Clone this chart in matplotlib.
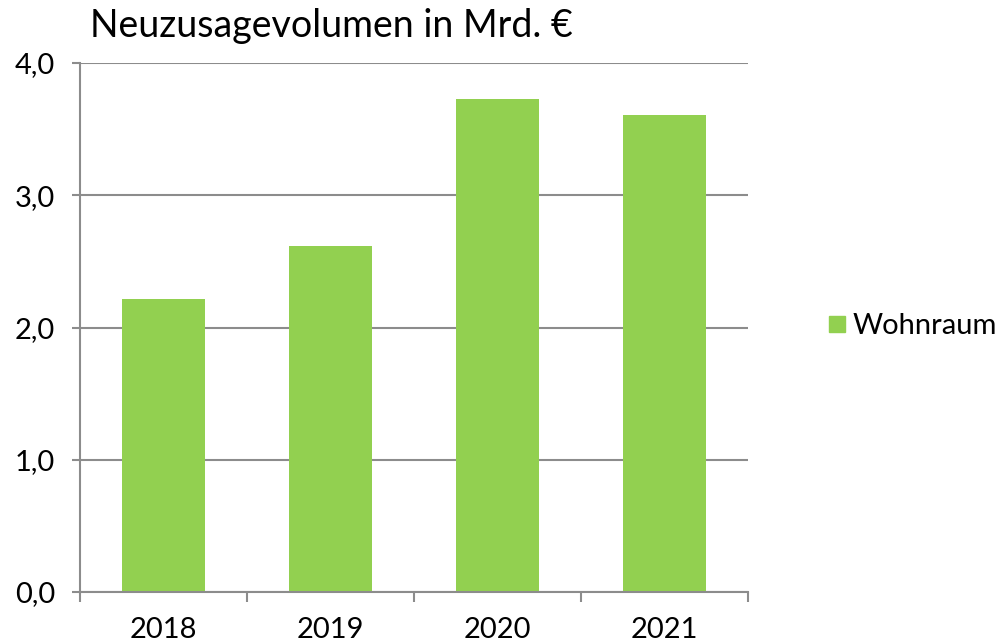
import matplotlib
matplotlib.use("Agg")
import matplotlib.pyplot as plt
from matplotlib.lines import Line2D

# Daten
jahre = ["2018", "2019", "2020", "2021"]
wohnraum = [2.215, 2.62, 3.73, 3.61]
y_ticks = [0.0, 1.0, 2.0, 3.0, 4.0]
y_labels = ["0,0", "1,0", "2,0", "3,0", "4,0"]
titel = "Neuzusagevolumen in Mrd. €"
serie = "Wohnraum"

gruen = "#92D050"
grau = "#8c8c8c"

plt.rcParams['font.family'] = ['Lato', 'DejaVu Sans']

fig = plt.figure(figsize=(9.98, 6.4), dpi=100)
ax = fig.add_axes([80 / 998, 48 / 640, 668 / 998, 529 / 640])

x = range(len(jahre))
ax.bar(x, wohnraum, width=0.5, color=gruen, zorder=2)

ax.set_xlim(-0.5, len(jahre) - 0.5)
ax.set_ylim(0, 4)
ax.set_yticks(y_ticks)
ax.set_yticklabels(y_labels, fontsize=21)
ax.yaxis.grid(True, color=grau, linewidth=1.5, zorder=0)
ax.tick_params(axis='y', length=6, width=1.5, color=grau, pad=12)

ax.set_xticks(list(x))
ax.set_xticklabels(jahre, fontsize=21)
ax.set_xticks([i - 0.5 for i in range(len(jahre) + 1)], minor=True)
ax.tick_params(axis='x', which='major', length=0, pad=18)
ax.tick_params(axis='x', which='minor', length=7, width=1.5, color=grau)

for s in ['top', 'right']:
    ax.spines[s].set_visible(False)
for s in ['left', 'bottom']:
    ax.spines[s].set_color(grau)
    ax.spines[s].set_linewidth(1.5)

fig.text(90 / 998, 1 - 37 / 640, titel, fontsize=27, ha='left', va='baseline')

handle = Line2D([], [], marker='s', linestyle='none', markersize=11.5,
                markerfacecolor=gruen, markeredgecolor=gruen)
fig.legend([handle], [serie], loc='center left',
           bbox_to_anchor=(822 / 998, 1 - 326 / 640), frameon=False,
           fontsize=21, handletextpad=0.05, handlelength=1.0,
           borderaxespad=0, borderpad=0)

fig.savefig("out.png", dpi=100)
